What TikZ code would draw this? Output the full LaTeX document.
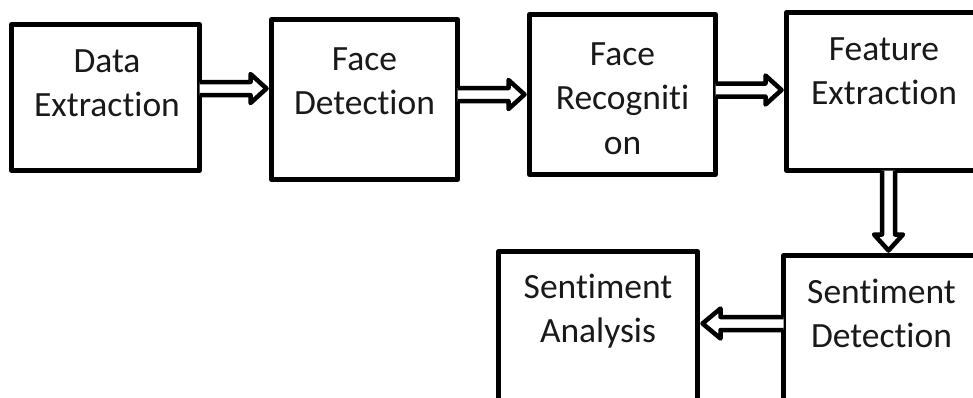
\documentclass[tikz,border=0pt]{standalone}
\usepackage{fontspec}
\setmainfont[Ligatures=NoCommon]{Carlito}
\usetikzlibrary{calc}
\newcommand\hollowR[3]{%
  \draw[arr] ($(#1.east |- #3)+(0,-6.5)$) -- ($(#2.west |- #3)+(-21,-6.5)$) -- ($(#2.west |- #3)+(-21,-14.5)$) -- ($(#2.west |- #3)+(-5,0)$) -- ($(#2.west |- #3)+(-21,14.5)$) -- ($(#2.west |- #3)+(-21,6.5)$) -- ($(#1.east |- #3)+(0,6.5)$);}
\newcommand\hollowD[3]{%
  \draw[arr] ($(#3 |- #1.south)+(-6.5,0)$) -- ($(#3 |- #2.north)+(-6.5,-21)$) -- ($(#3 |- #2.north)+(-14.5,-21)$) -- ($(#3 |- #2.north)+(0,-5)$) -- ($(#3 |- #2.north)+(14.5,-21)$) -- ($(#3 |- #2.north)+(6.5,-21)$) -- ($(#3 |- #1.south)+(6.5,0)$);}
\newcommand\hollowL[3]{%
  \draw[arr] ($(#1.west |- #3)+(0,-6.5)$) -- ($(#2.east |- #3)+(23,-6.5)$) -- ($(#2.east |- #3)+(23,-15)$) -- ($(#2.east |- #3)+(5,0)$) -- ($(#2.east |- #3)+(23,15)$) -- ($(#2.east |- #3)+(23,6.5)$) -- ($(#1.west |- #3)+(0,6.5)$);}
\begin{document}
\begin{tikzpicture}[x=1pt,y=-1pt,
  box/.style={draw,line width=5pt,fill=white,inner sep=0pt,outer sep=0pt,line join=round},
  txt/.style={inner sep=0pt,anchor=base,text=black!90,font=\fontsize{35.5}{44.5}\selectfont},
  arr/.style={draw,fill=white,line width=4.5pt,line join=round}]
\useasboundingbox[fill=white] (0,0) rectangle (973,397);
% boxes
\node[box, minimum width=188pt, minimum height=146pt] (b1) at (105.5,97.5) {};
\node[box, minimum width=186pt, minimum height=160pt] (b2) at (364.5,99.5) {};
\node[box, minimum width=186pt, minimum height=160pt] (b3) at (622.5,94.5) {};
\node[box, minimum width=195pt, minimum height=158pt] (b4) at (884,91.5) {};
\node[box, minimum width=196pt, minimum height=160pt] (b5) at (881.5,335.5) {};
\node[box, minimum width=199pt, minimum height=160pt] (b6) at (598,331.5) {};
% texts
\node[txt] (t1) at ($(b1.north)+(1.5,47.5)$) {\parbox[t]{180pt}{\centering Data\\Extraction}};
\node[txt] (t2) at ($(b2.north)+(0,50.5)$) {\parbox[t]{180pt}{\centering Face\\Detection}};
\node[txt] (t3) at ($(b3.north)+(0,50.5)$) {\parbox[t]{180pt}{\centering Face\\Recogniti\\on}};
\node[txt] (t4) at ($(b4.north)+(0,47.5)$) {\parbox[t]{180pt}{\centering Feature\\Extraction}};
\node[txt] (t5) at ($(b5.north)+(0,47.5)$) {\parbox[t]{180pt}{\centering Sentiment\\Detection}};
\node[txt] (t6) at ($(b6.north)+(0,46.5)$) {\parbox[t]{180pt}{\centering Sentiment\\Analysis}};
% arrow levels
\coordinate (y1) at (0,88.5);
\coordinate (y2) at (0,94.5);
\coordinate (y3) at (0,90);
\coordinate (x4) at (888.5,0);
\coordinate (y5) at (0,323.5);
\hollowR{b1}{b2}{y1}
\hollowR{b2}{b3}{y2}
\hollowR{b3}{b4}{y3}
\hollowD{b4}{b5}{x4}
\hollowL{b5}{b6}{y5}
\end{tikzpicture}
\end{document}
